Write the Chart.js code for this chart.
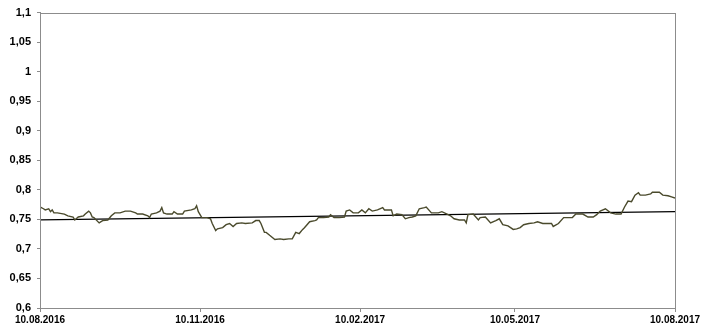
<!DOCTYPE html>
<html>
<head>
<meta charset="utf-8">
<script src="https://cdn.jsdelivr.net/npm/chart.js@4/dist/chart.umd.min.js"></script>
<style>
html,body{margin:0;padding:0;background:#fff;}
#wrap{width:711px;height:333px;}
</style>
</head>
<body>
<div id="wrap"><canvas id="c" width="711" height="333"></canvas></div>
<script>
// days since 10.08.2016
const days = [0,2,3,5,6,7,8,10,14,16,19,20,22,25,26,28,29,30,31,34,36,39,41,43,46,49,52,55,56,59,62,63,64,67,69,70,71,73,76,77,79,82,83,87,89,90,91,93,96,98,99,101,102,105,107,109,111,113,116,118,122,124,126,127,129,130,132,135,138,140,143,145,147,149,151,152,155,158,159,160,163,166,167,169,172,175,176,178,180,183,185,187,189,191,194,197,198,201,202,203,205,208,210,212,214,216,218,221,222,225,228,229,231,234,236,238,241,244,245,246,249,252,253,256,259,262,264,266,269,272,274,276,278,281,284,286,289,292,294,295,298,301,302,306,308,310,312,315,318,320,322,325,328,331,334,336,338,340,342,344,345,348,351,352,356,358,361,363,365];
const values = [0.771,0.768,0.766,0.768,0.763,0.766,0.761,0.761,0.759,0.756,0.754,0.749,0.754,0.756,0.759,0.764,0.761,0.754,0.753,0.744,0.748,0.749,0.756,0.761,0.761,0.764,0.764,0.761,0.759,0.759,0.756,0.753,0.759,0.761,0.764,0.770,0.761,0.759,0.759,0.763,0.759,0.759,0.764,0.766,0.768,0.773,0.763,0.753,0.753,0.751,0.743,0.731,0.734,0.736,0.741,0.743,0.738,0.743,0.744,0.743,0.744,0.748,0.748,0.743,0.728,0.728,0.723,0.716,0.717,0.716,0.717,0.717,0.728,0.726,0.733,0.736,0.746,0.748,0.749,0.753,0.753,0.754,0.758,0.753,0.753,0.754,0.764,0.766,0.761,0.761,0.766,0.761,0.768,0.764,0.766,0.770,0.766,0.766,0.766,0.756,0.759,0.758,0.751,0.753,0.754,0.756,0.768,0.770,0.771,0.761,0.761,0.761,0.763,0.759,0.756,0.751,0.749,0.749,0.744,0.758,0.759,0.749,0.753,0.754,0.744,0.748,0.751,0.741,0.739,0.733,0.734,0.736,0.741,0.743,0.744,0.746,0.743,0.743,0.743,0.738,0.743,0.753,0.753,0.753,0.759,0.759,0.759,0.754,0.754,0.758,0.764,0.768,0.761,0.759,0.759,0.771,0.781,0.780,0.791,0.795,0.791,0.791,0.793,0.796,0.796,0.791,0.790,0.788,0.786];

// linear trend endpoints
const trendDays = [0, 365];
const trendValues = [0.749, 0.763];

const xTickDays = [0, 92, 184, 273, 365];
const xTickLabels = ['10.08.2016','10.11.2016','10.02.2017','10.05.2017','10.08.2017'];
const yTicks = [0.6,0.65,0.7,0.75,0.8,0.85,0.9,0.95,1,1.05,1.1];

const boxPlugin = {
  id: 'box',
  afterDraw(chart){
    const {ctx, chartArea: a} = chart;
    ctx.save();
    ctx.strokeStyle = '#8c8c8c';
    ctx.lineWidth = 1;
    ctx.strokeRect(Math.round(a.left)+0.5, Math.round(a.top)+0.5, Math.round(a.right-a.left), Math.round(a.bottom-a.top));
    ctx.restore();
  }
};

const font = { family: 'Liberation Sans, Arial, sans-serif', weight: 'bold' };

new Chart(document.getElementById('c'), {
  type: 'line',
  data: {
    datasets: [
      {
        data: days.map((d, i) => ({ x: d, y: values[i] })),
        borderColor: '#4a4a2c',
        borderWidth: 1.4,
        pointRadius: 0,
        tension: 0
      },
      {
        data: trendDays.map((d, i) => ({ x: d, y: trendValues[i] })),
        borderColor: '#000',
        borderWidth: 1.2,
        pointRadius: 0
      }
    ]
  },
  options: {
    responsive: false,
    animation: false,
    layout: { padding: { left: 0, right: 36, top: 8, bottom: 0 } },
    plugins: { legend: { display: false }, tooltip: { enabled: false } },
    scales: {
      x: {
        type: 'linear',
        min: 0, max: 365,
        afterBuildTicks: (s) => { s.ticks = xTickDays.map(v => ({ value: v })); },
        afterFit: (s) => { s.height = 25; },
        ticks: {
          autoSkip: false, maxRotation: 0, padding: 2,
          color: '#000', font: { ...font, size: 10 },
          callback: (v) => xTickLabels[xTickDays.indexOf(v)]
        },
        grid: { drawOnChartArea: false, drawTicks: true, tickLength: 4, color: '#8c8c8c' },
        border: { color: '#8c8c8c' }
      },
      y: {
        min: 0.6, max: 1.1,
        afterBuildTicks: (s) => { s.ticks = yTicks.map(v => ({ value: v })); },
        afterFit: (s) => { s.width = 40; },
        ticks: {
          padding: 6, color: '#000', font: { ...font, size: 11 },
          callback: (v) => String(Math.round(v * 100) / 100).replace('.', ',')
        },
        grid: { drawOnChartArea: false, drawTicks: true, tickLength: 3, color: '#8c8c8c' },
        border: { color: '#8c8c8c' }
      }
    }
  },
  plugins: [boxPlugin]
});
</script>
</body>
</html>
